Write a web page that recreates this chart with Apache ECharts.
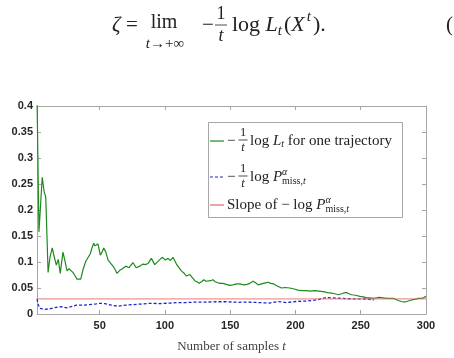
<!DOCTYPE html>
<html>
<head>
<meta charset="utf-8">
<script src="https://cdn.jsdelivr.net/npm/echarts@6/dist/echarts.min.js"></script>
<style>
html, body { margin: 0; padding: 0; background: #fff; }
#chart { width: 454px; height: 358px; }
</style>
</head>
<body>
<div id="chart"></div>
<script>
// values
var tGreen = [2, 3.5, 6, 7.5, 8.7, 10.5, 12, 13.7, 15, 16.8, 18.3, 19.8, 21.9, 23.7, 25, 26.5, 27.5, 29.5, 31, 32.6,
    34, 35.5, 37.2, 39.3, 40.8, 42.8, 44, 45.4, 46.5, 47.4, 48.7, 50.5, 52, 53.1, 54.6, 56.4, 58, 60.2, 61.5, 63.3,
    65.4, 67.5, 70, 72.5, 75.5, 78, 80.7, 83.2, 85, 87, 89.6, 92.2, 95.5, 97.8, 100.4, 102.4, 104.2, 106.2, 108.8, 110.5,
    112.6, 114.5, 116.5, 119, 121, 122.9, 124.5, 126.2, 128, 129.8, 131.5, 133, 135, 136.8, 138.5, 140.7, 142.5, 144.5, 147, 149.7,
    152, 155, 157.4, 159, 161, 163, 165, 167.6, 169.5, 171.4, 174, 177, 179, 181, 183, 186, 189.3, 192, 195.7, 199,
    202, 205, 208.4, 211, 214.8, 218, 221.2, 224.5, 227.7, 230, 232.8, 235.5, 238.7, 241, 243, 246, 249.4, 252, 254.5, 257,
    259.6, 262, 264.2, 267, 269.8, 272.5, 275, 277, 278.8, 281, 283.9, 286.5, 289, 291.5, 294, 296, 298, 300];
var vGreen = [0.42, 0.158, 0.263, 0.235, 0.225, 0.08, 0.11, 0.127, 0.112, 0.094, 0.105, 0.078, 0.119, 0.099, 0.083, 0.087, 0.089, 0.08, 0.074, 0.067,
    0.068, 0.067, 0.085, 0.101, 0.099, 0.116, 0.126, 0.136, 0.131, 0.134, 0.135, 0.113, 0.12, 0.127, 0.12, 0.104, 0.099, 0.092, 0.087, 0.078,
    0.084, 0.087, 0.092, 0.089, 0.099, 0.089, 0.092, 0.096, 0.095, 0.097, 0.107, 0.095, 0.103, 0.109, 0.104, 0.107, 0.103, 0.109, 0.096, 0.09,
    0.083, 0.079, 0.073, 0.076, 0.07, 0.064, 0.062, 0.059, 0.062, 0.066, 0.063, 0.062, 0.064, 0.066, 0.062, 0.06, 0.059, 0.059, 0.057, 0.055,
    0.056, 0.058, 0.058, 0.057, 0.056, 0.057, 0.059, 0.063, 0.06, 0.056, 0.058, 0.06, 0.061, 0.059, 0.058, 0.054, 0.05, 0.051, 0.05, 0.048,
    0.046, 0.045, 0.045, 0.044, 0.045, 0.044, 0.043, 0.041, 0.04, 0.039, 0.037, 0.039, 0.0416, 0.039, 0.037, 0.036, 0.034, 0.033, 0.031, 0.031,
    0.03, 0.031, 0.032, 0.031, 0.03, 0.03, 0.03, 0.028, 0.026, 0.024, 0.023, 0.025, 0.027, 0.028, 0.03, 0.03, 0.031, 0.034];

var tBlue = [2, 3, 4, 5.3, 8, 11.7, 15, 18, 21, 24.5, 28, 32, 37, 42, 47.5, 50, 53.9, 59, 64, 70,
    75, 81, 88, 96, 104, 111, 116, 124, 132, 139, 147, 152, 157, 162, 167, 172, 180, 187, 193, 200,
    208, 213, 218, 224, 228, 232, 239.6, 245, 250, 255, 260];
var vBlue = [0.029, 0.018, 0.011, 0.008, 0.009, 0.01, 0.012, 0.0135, 0.014, 0.012, 0.014, 0.017, 0.017, 0.018, 0.0196, 0.0205, 0.02, 0.017, 0.015, 0.017,
    0.018, 0.019, 0.0205, 0.02, 0.021, 0.022, 0.022, 0.023, 0.023, 0.0236, 0.0236, 0.023, 0.0225, 0.023, 0.0225, 0.022, 0.021, 0.024, 0.022, 0.024,
    0.025, 0.026, 0.028, 0.0318, 0.031, 0.0306, 0.0294, 0.029, 0.029, 0.0288, 0.027];

var tRed = [2, 300];
var vRed = [0.029, 0.029];

var xTicks = [50, 100, 150, 200, 250, 300];

var serif = '"Liberation Serif", "Times New Roman", serif';
var ink = '#222';
var boxColor = '#a6a6a6';

function pairs(ts, vs) {
    return ts.map(function (t, i) { return [t, vs[i]]; });
}

// lay out a row of text pieces left to right; keep:true does not advance (for stacked sup/sub)
var measure = document.createElement('canvas').getContext('2d');
function run(x, y, parts) {
    var out = [];
    parts.forEach(function (p) {
        if (p.gap) { x += p.gap; return; }
        var font = (p.it ? 'italic ' : '') + p.s + 'px ' + serif;
        measure.font = font;
        out.push({
            type: 'text', x: x, y: y + (p.dy || 0),
            style: { text: p.t, font: font, fill: ink, verticalAlign: 'middle' }
        });
        if (!p.keep) x += measure.measureText(p.t).width;
    });
    return out;
}

function frac(cx, y, s, half) {
    var font = s + 'px ' + serif;
    return [
        { type: 'text', x: cx, y: y - s * 0.6, style: { text: '1', font: font, fill: ink, align: 'center', verticalAlign: 'middle' } },
        { type: 'line', shape: { x1: cx - half, y1: y, x2: cx + half, y2: y }, style: { stroke: ink, lineWidth: 0.8 } },
        { type: 'text', x: cx, y: y + s * 0.62, style: { text: 't', font: 'italic ' + font, fill: ink, align: 'center', verticalAlign: 'middle' } }
    ];
}

var g = [];

// equation above the figure
g = g.concat(run(112, 25, [{ t: 'ζ', s: 21, it: true }]));
g = g.concat(run(126, 25, [{ t: '=', s: 21 }]));
g.push({ type: 'text', x: 164, y: 23, style: { text: 'lim', font: '20px ' + serif, fill: ink, align: 'center', verticalAlign: 'middle' } });
g.push({ type: 'text', x: 165, y: 44, style: {
    text: '{i|t}{n|→+∞}', align: 'center', verticalAlign: 'middle',
    rich: { i: { font: 'italic 15px ' + serif, fill: ink }, n: { font: '15px ' + serif, fill: ink } }
} });
g = g.concat(run(202, 25, [{ t: '−', s: 21 }]));
g = g.concat(frac(221, 25, 18, 6));
g = g.concat(run(232, 25, [
    { t: 'log ', s: 22 }, { t: 'L', s: 22, it: true }, { t: 't', s: 15, it: true, dy: 6 }, { gap: 2 },
    { t: '(', s: 22 }, { t: 'X', s: 22, it: true }, { gap: 2 }, { t: 't', s: 15, it: true, dy: -8 }, { gap: 2 }, { t: ').', s: 22 }
]));
g = g.concat(run(446, 25, [{ t: '(', s: 21 }]));

// legend box
g.push({ type: 'rect', shape: { x: 208.5, y: 122.5, width: 194, height: 95 }, style: { fill: '#fff', stroke: boxColor, lineWidth: 1 }, z: 10 });
var legendRows = [
    { y: 141, color: '#1e8a1e', dash: null },
    { y: 177, color: '#2222cc', dash: [3, 2] },
    { y: 205, color: '#e06a6a', dash: null }
];
legendRows.forEach(function (r) {
    g.push({ type: 'line', shape: { x1: 210, y1: r.y, x2: 224, y2: r.y }, style: { stroke: r.color, lineWidth: 1.2, lineDash: r.dash }, z: 11 });
});
var fs = 15;
var legendText = [];
legendText = legendText.concat(run(227, 141, [{ t: '−', s: fs }]));
legendText = legendText.concat(frac(243, 140, 12.5, 4.5));
legendText = legendText.concat(run(250, 141, [
    { t: 'log ', s: fs }, { t: 'L', s: fs, it: true }, { t: 't', s: 10, it: true, dy: 3 },
    { t: ' for one trajectory', s: fs }
]));
legendText = legendText.concat(run(227, 177, [{ t: '−', s: fs }]));
legendText = legendText.concat(frac(243, 176, 12.5, 4.5));
legendText = legendText.concat(run(250, 177, [
    { t: 'log ', s: fs }, { t: 'P', s: fs, it: true },
    { t: 'α', s: 10, it: true, dy: -5, keep: true }, { t: 'miss,', s: 10, dy: 4 }, { t: 't', s: 10, it: true, dy: 4 }
]));
legendText = legendText.concat(run(227, 205, [
    { t: 'Slope of − log ', s: fs }, { t: 'P', s: fs, it: true },
    { t: 'α', s: 10, it: true, dy: -5, keep: true }, { t: 'miss,', s: 10, dy: 4 }, { t: 't', s: 10, it: true, dy: 4 }
]));
legendText.forEach(function (e) { e.z = 11; });
g = g.concat(legendText);

var chart = echarts.init(document.getElementById('chart'));
var tickLabel = { fontFamily: '"Liberation Sans", Arial, sans-serif', fontWeight: 'bold', fontSize: 11, color: '#262626' };

chart.setOption({
    animation: false,
    grid: { left: 37, right: 28, top: 106, bottom: 35 },
    xAxis: [{
        type: 'value', min: 2, max: 300,
        axisLine: { show: true, lineStyle: { color: boxColor, width: 1 } },
        axisTick: { show: true, inside: true, length: 4, customValues: xTicks, lineStyle: { color: boxColor } },
        axisLabel: Object.assign({ customValues: xTicks, margin: 6 }, tickLabel),
        splitLine: { show: false },
        name: '{a|Number of samples }{b|t}',
        nameLocation: 'middle', nameGap: 26,
        nameTextStyle: {
            rich: {
                a: { fontFamily: serif, fontSize: 13, color: '#404040' },
                b: { fontFamily: serif, fontSize: 13, fontStyle: 'italic', color: '#404040' }
            }
        }
    }, {
        type: 'value', min: 2, max: 300, position: 'top',
        axisLine: { show: true, onZero: false, lineStyle: { color: boxColor, width: 1 } },
        axisTick: { show: true, inside: true, length: 4, customValues: xTicks, lineStyle: { color: boxColor } },
        axisLabel: { show: false }, splitLine: { show: false }
    }],
    yAxis: [{
        type: 'value', min: 0, max: 0.4, interval: 0.05,
        axisLine: { show: true, lineStyle: { color: boxColor, width: 1 } },
        axisTick: { show: true, inside: true, length: 4, lineStyle: { color: boxColor } },
        axisLabel: Object.assign({ margin: 4 }, tickLabel),
        splitLine: { show: false }
    }, {
        type: 'value', min: 0, max: 0.4, interval: 0.05, position: 'right',
        axisLine: { show: true, onZero: false, lineStyle: { color: boxColor, width: 1 } },
        axisTick: { show: true, inside: true, length: 4, lineStyle: { color: boxColor } },
        axisLabel: { show: false }, splitLine: { show: false }
    }],
    series: [{
        name: 'green', type: 'line', data: pairs(tGreen, vGreen), showSymbol: false, clip: true,
        lineStyle: { color: '#1e8a1e', width: 1.2 }
    }, {
        name: 'blue', type: 'line', data: pairs(tBlue, vBlue), showSymbol: false,
        lineStyle: { color: '#2222cc', width: 1.3, type: [3, 2] }
    }, {
        name: 'red', type: 'line', data: pairs(tRed, vRed), showSymbol: false,
        lineStyle: { color: '#e06a6a', width: 0.9 }
    }],
    graphic: g
});
</script>
</body>
</html>
